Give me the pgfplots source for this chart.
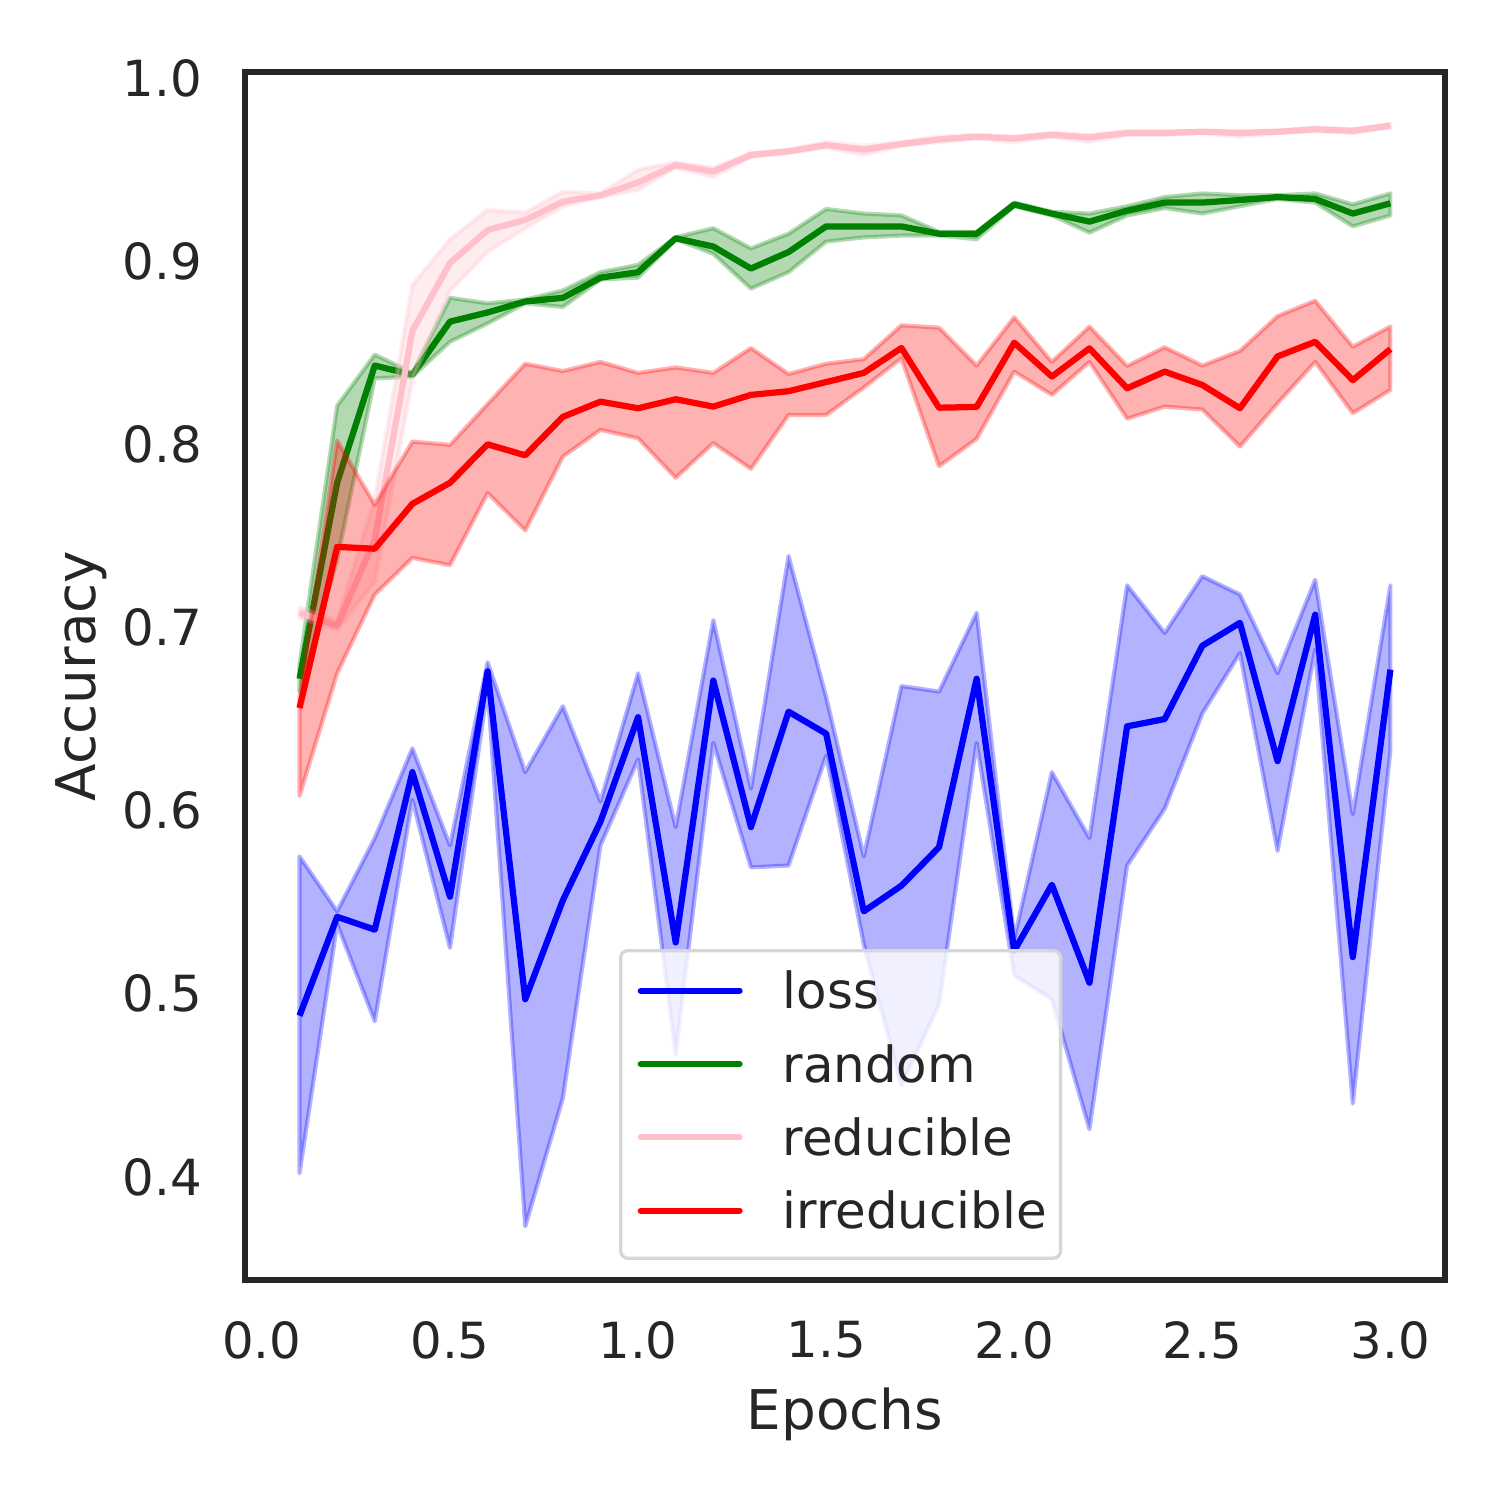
\documentclass[border=0pt]{standalone}
\usepackage{fontspec}
\setmainfont{DejaVu Sans}
\usepackage{pgfplots}
\usepackage{pgfplotstable}
\pgfplotsset{compat=1.18}
\definecolor{txt}{HTML}{262626}
\definecolor{lgframe}{HTML}{D6D6D6}
\definecolor{pinkc}{HTML}{FFC0CB}
\definecolor{greenc}{HTML}{008000}

\pgfplotstableread{
x loss random reducible irreducible
0.1 0.488 0.672 0.708 0.656
0.2 0.542 0.779 0.701 0.744
0.3 0.535 0.843 0.748 0.743
0.4 0.621 0.838 0.862 0.7675
0.5 0.553 0.867 0.899 0.779
0.6 0.676 0.872 0.917 0.800
0.7 0.497 0.878 0.9225 0.794
0.8 0.551 0.880 0.9325 0.815
0.9 0.594 0.891 0.936 0.8233
1.0 0.651 0.894 0.943 0.8197
1.1 0.528 0.9125 0.9525 0.8246
1.2 0.671 0.908 0.949 0.8206
1.3 0.591 0.896 0.958 0.827
1.4 0.654 0.905 0.960 0.829
1.5 0.642 0.919 0.9634 0.834
1.6 0.545 0.919 0.961 0.839
1.7 0.559 0.919 0.964 0.8526
1.8 0.580 0.915 0.9665 0.820
1.9 0.672 0.915 0.968 0.8204
2.0 0.5235 0.931 0.967 0.8555
2.1 0.5595 0.926 0.969 0.837
2.2 0.506 0.9216 0.9676 0.8524
2.3 0.646 0.9276 0.970 0.8306
2.4 0.650 0.932 0.970 0.8397
2.5 0.690 0.932 0.9707 0.8324
2.6 0.7025 0.9334 0.970 0.8197
2.7 0.627 0.935 0.9707 0.848
2.8 0.707 0.934 0.972 0.856
2.9 0.520 0.926 0.9712 0.835
3.0 0.677 0.9316 0.974 0.852
}\means

\begin{document}
\begin{tikzpicture}
\begin{axis}[
  scale only axis, width=289.08pt, height=291.01pt,
  xmin=-0.045, xmax=3.145, ymin=0.3437, ymax=1.0033,
  axis line style={draw=txt, line width=1.25pt},
  xtick={0,0.5,1,1.5,2,2.5,3},
  ytick={0.4,0.5,0.6,0.7,0.8,0.9,1.0},
  major tick length=0pt,
  /pgf/number format/assume math mode=true,
  /pgf/number format/fixed, /pgf/number format/fixed zerofill, /pgf/number format/precision=1,
  tick label style={font=\fontsize{12}{14.4}\selectfont, text=txt},
  xticklabel style={yshift=-6.4pt},
  yticklabel style={xshift=-6.8pt},
  xlabel={Epochs}, ylabel={Accuracy},
  label style={font=\fontsize{13.2}{15.8}\selectfont, text=txt},
  xlabel style={at={(axis description cs:0.5,-0.1234)}, anchor=base},
  ylabel style={at={(axis description cs:-0.1242,0.5)}, anchor=base},
  legend style={at={(0.3117,0.274)}, anchor=north west, draw=lgframe, line width=0.8pt,
    rounded corners=1.7pt, fill=white, fill opacity=0.8, draw opacity=1, text opacity=1,
    font=\fontsize{12}{14.4}\selectfont, text=txt, inner xsep=3.34pt, inner ysep=4.8pt,
    row sep=6.16pt, nodes={inner sep=0pt, text height=9.2pt, text depth=2.3pt}},
  legend cell align=left,
  legend image code/.code={\draw[#1, line width=1.5pt, line cap=round] (0.75pt,0.9pt) -- (24.55pt,0.9pt);
    \path (0pt,0.9pt) (34.2pt,0.9pt);},
  legend entries={loss,random,reducible,irreducible},
]
% loss band
\addplot[forget plot, fill=blue, fill opacity=0.3, draw=blue, draw opacity=0.3, line width=1pt, line join=round] coordinates {
(0.1,0.575)(0.2,0.545)(0.3,0.585)(0.4,0.634)(0.5,0.581)(0.6,0.681)(0.7,0.621)(0.8,0.657)(0.9,0.605)(1.0,0.675)(1.1,0.591)(1.2,0.704)(1.3,0.612)(1.4,0.739)(1.5,0.662)(1.6,0.575)(1.7,0.668)(1.8,0.665)(1.9,0.708)(2.0,0.530)(2.1,0.621)(2.2,0.585)(2.3,0.723)(2.4,0.697)(2.5,0.728)(2.6,0.718)(2.7,0.675)(2.8,0.726)(2.9,0.598)(3.0,0.723)
(3.0,0.633)(2.9,0.440)(2.8,0.688)(2.7,0.578)(2.6,0.686)(2.5,0.653)(2.4,0.601)(2.3,0.570)(2.2,0.426)(2.1,0.497)(2.0,0.510)(1.9,0.637)(1.8,0.494)(1.7,0.450)(1.6,0.527)(1.5,0.630)(1.4,0.570)(1.3,0.569)(1.2,0.637)(1.1,0.467)(1.0,0.628)(0.9,0.581)(0.8,0.443)(0.7,0.373)(0.6,0.667)(0.5,0.525)(0.4,0.606)(0.3,0.485)(0.2,0.538)(0.1,0.402)
} -- cycle;
\addplot[blue, line width=1.5pt, line join=round] table[x=x, y=loss] {\means};
% random band
\addplot[forget plot, fill=greenc, fill opacity=0.3, draw=greenc, draw opacity=0.3, line width=1pt, line join=round] coordinates {
(0.1,0.680)(0.2,0.821)(0.3,0.849)(0.4,0.839)(0.5,0.880)(0.6,0.877)(0.7,0.879)(0.8,0.884)(0.9,0.894)(1.0,0.898)(1.1,0.913)(1.2,0.918)(1.3,0.907)(1.4,0.915)(1.5,0.9285)(1.6,0.926)(1.7,0.925)(1.8,0.916)(1.9,0.916)(2.0,0.932)(2.1,0.927)(2.2,0.926)(2.3,0.930)(2.4,0.935)(2.5,0.937)(2.6,0.936)(2.7,0.936)(2.8,0.937)(2.9,0.931)(3.0,0.937)
(3.0,0.925)(2.9,0.919)(2.8,0.932)(2.7,0.934)(2.6,0.930)(2.5,0.926)(2.4,0.929)(2.3,0.925)(2.2,0.9156)(2.1,0.925)(2.0,0.930)(1.9,0.912)(1.8,0.914)(1.7,0.914)(1.6,0.913)(1.5,0.9107)(1.4,0.894)(1.3,0.885)(1.2,0.904)(1.1,0.912)(1.0,0.891)(0.9,0.890)(0.8,0.875)(0.7,0.877)(0.6,0.866)(0.5,0.856)(0.4,0.837)(0.3,0.836)(0.2,0.737)(0.1,0.665)
} -- cycle;
\addplot[greenc, line width=1.5pt, line join=round] table[x=x, y=random] {\means};
% reducible band
\addplot[forget plot, fill=pinkc, fill opacity=0.3, draw=pinkc, draw opacity=0.3, line width=1pt, line join=round] coordinates {
(0.1,0.711)(0.2,0.704)(0.3,0.770)(0.4,0.887)(0.5,0.912)(0.6,0.928)(0.7,0.9265)(0.8,0.938)(0.9,0.937)(1.0,0.950)(1.1,0.954)(1.2,0.951)(1.3,0.959)(1.4,0.961)(1.5,0.965)(1.6,0.963)(1.7,0.965)(1.8,0.968)(1.9,0.969)(2.0,0.968)(2.1,0.970)(2.2,0.969)(2.3,0.971)(2.4,0.971)(2.5,0.971)(2.6,0.971)(2.7,0.971)(2.8,0.973)(2.9,0.972)(3.0,0.975)
(3.0,0.973)(2.9,0.970)(2.8,0.971)(2.7,0.970)(2.6,0.968)(2.5,0.970)(2.4,0.969)(2.3,0.969)(2.2,0.965)(2.1,0.968)(2.0,0.965)(1.9,0.967)(1.8,0.965)(1.7,0.963)(1.6,0.958)(1.5,0.962)(1.4,0.959)(1.3,0.957)(1.2,0.946)(1.1,0.951)(1.0,0.939)(0.9,0.935)(0.8,0.930)(0.7,0.918)(0.6,0.905)(0.5,0.884)(0.4,0.835)(0.3,0.725)(0.2,0.699)(0.1,0.705)
} -- cycle;
\addplot[pinkc, line width=1.5pt, line join=round] table[x=x, y=reducible] {\means};
% irreducible band
\addplot[forget plot, fill=red, fill opacity=0.3, draw=red, draw opacity=0.3, line width=1pt, line join=round] coordinates {
(0.1,0.662)(0.2,0.802)(0.3,0.767)(0.4,0.8015)(0.5,0.7997)(0.6,0.822)(0.7,0.844)(0.8,0.840)(0.9,0.845)(1.0,0.839)(1.1,0.842)(1.2,0.839)(1.3,0.8526)(1.4,0.8384)(1.5,0.844)(1.6,0.8465)(1.7,0.865)(1.8,0.8637)(1.9,0.843)(2.0,0.8694)(2.1,0.845)(2.2,0.8643)(2.3,0.8428)(2.4,0.853)(2.5,0.843)(2.6,0.851)(2.7,0.870)(2.8,0.8784)(2.9,0.8533)(3.0,0.8643)
(3.0,0.8297)(2.9,0.817)(2.8,0.845)(2.7,0.8224)(2.6,0.7988)(2.5,0.819)(2.4,0.8206)(2.3,0.814)(2.2,0.845)(2.1,0.827)(2.0,0.8397)(1.9,0.803)(1.8,0.788)(1.7,0.847)(1.6,0.831)(1.5,0.816)(1.4,0.816)(1.3,0.7866)(1.2,0.8007)(1.1,0.7817)(1.0,0.8033)(0.9,0.8079)(0.8,0.7933)(0.7,0.753)(0.6,0.7734)(0.5,0.734)(0.4,0.738)(0.3,0.718)(0.2,0.675)(0.1,0.608)
} -- cycle;
\addplot[red, line width=1.5pt, line join=round] table[x=x, y=irreducible] {\means};
\end{axis}
\pgfresetboundingbox
\path ([shift={(-59.02pt,-53.0pt)}]current axis.south west) rectangle ([shift={(13.25pt,17.35pt)}]current axis.north east);
\end{tikzpicture}
\end{document}
